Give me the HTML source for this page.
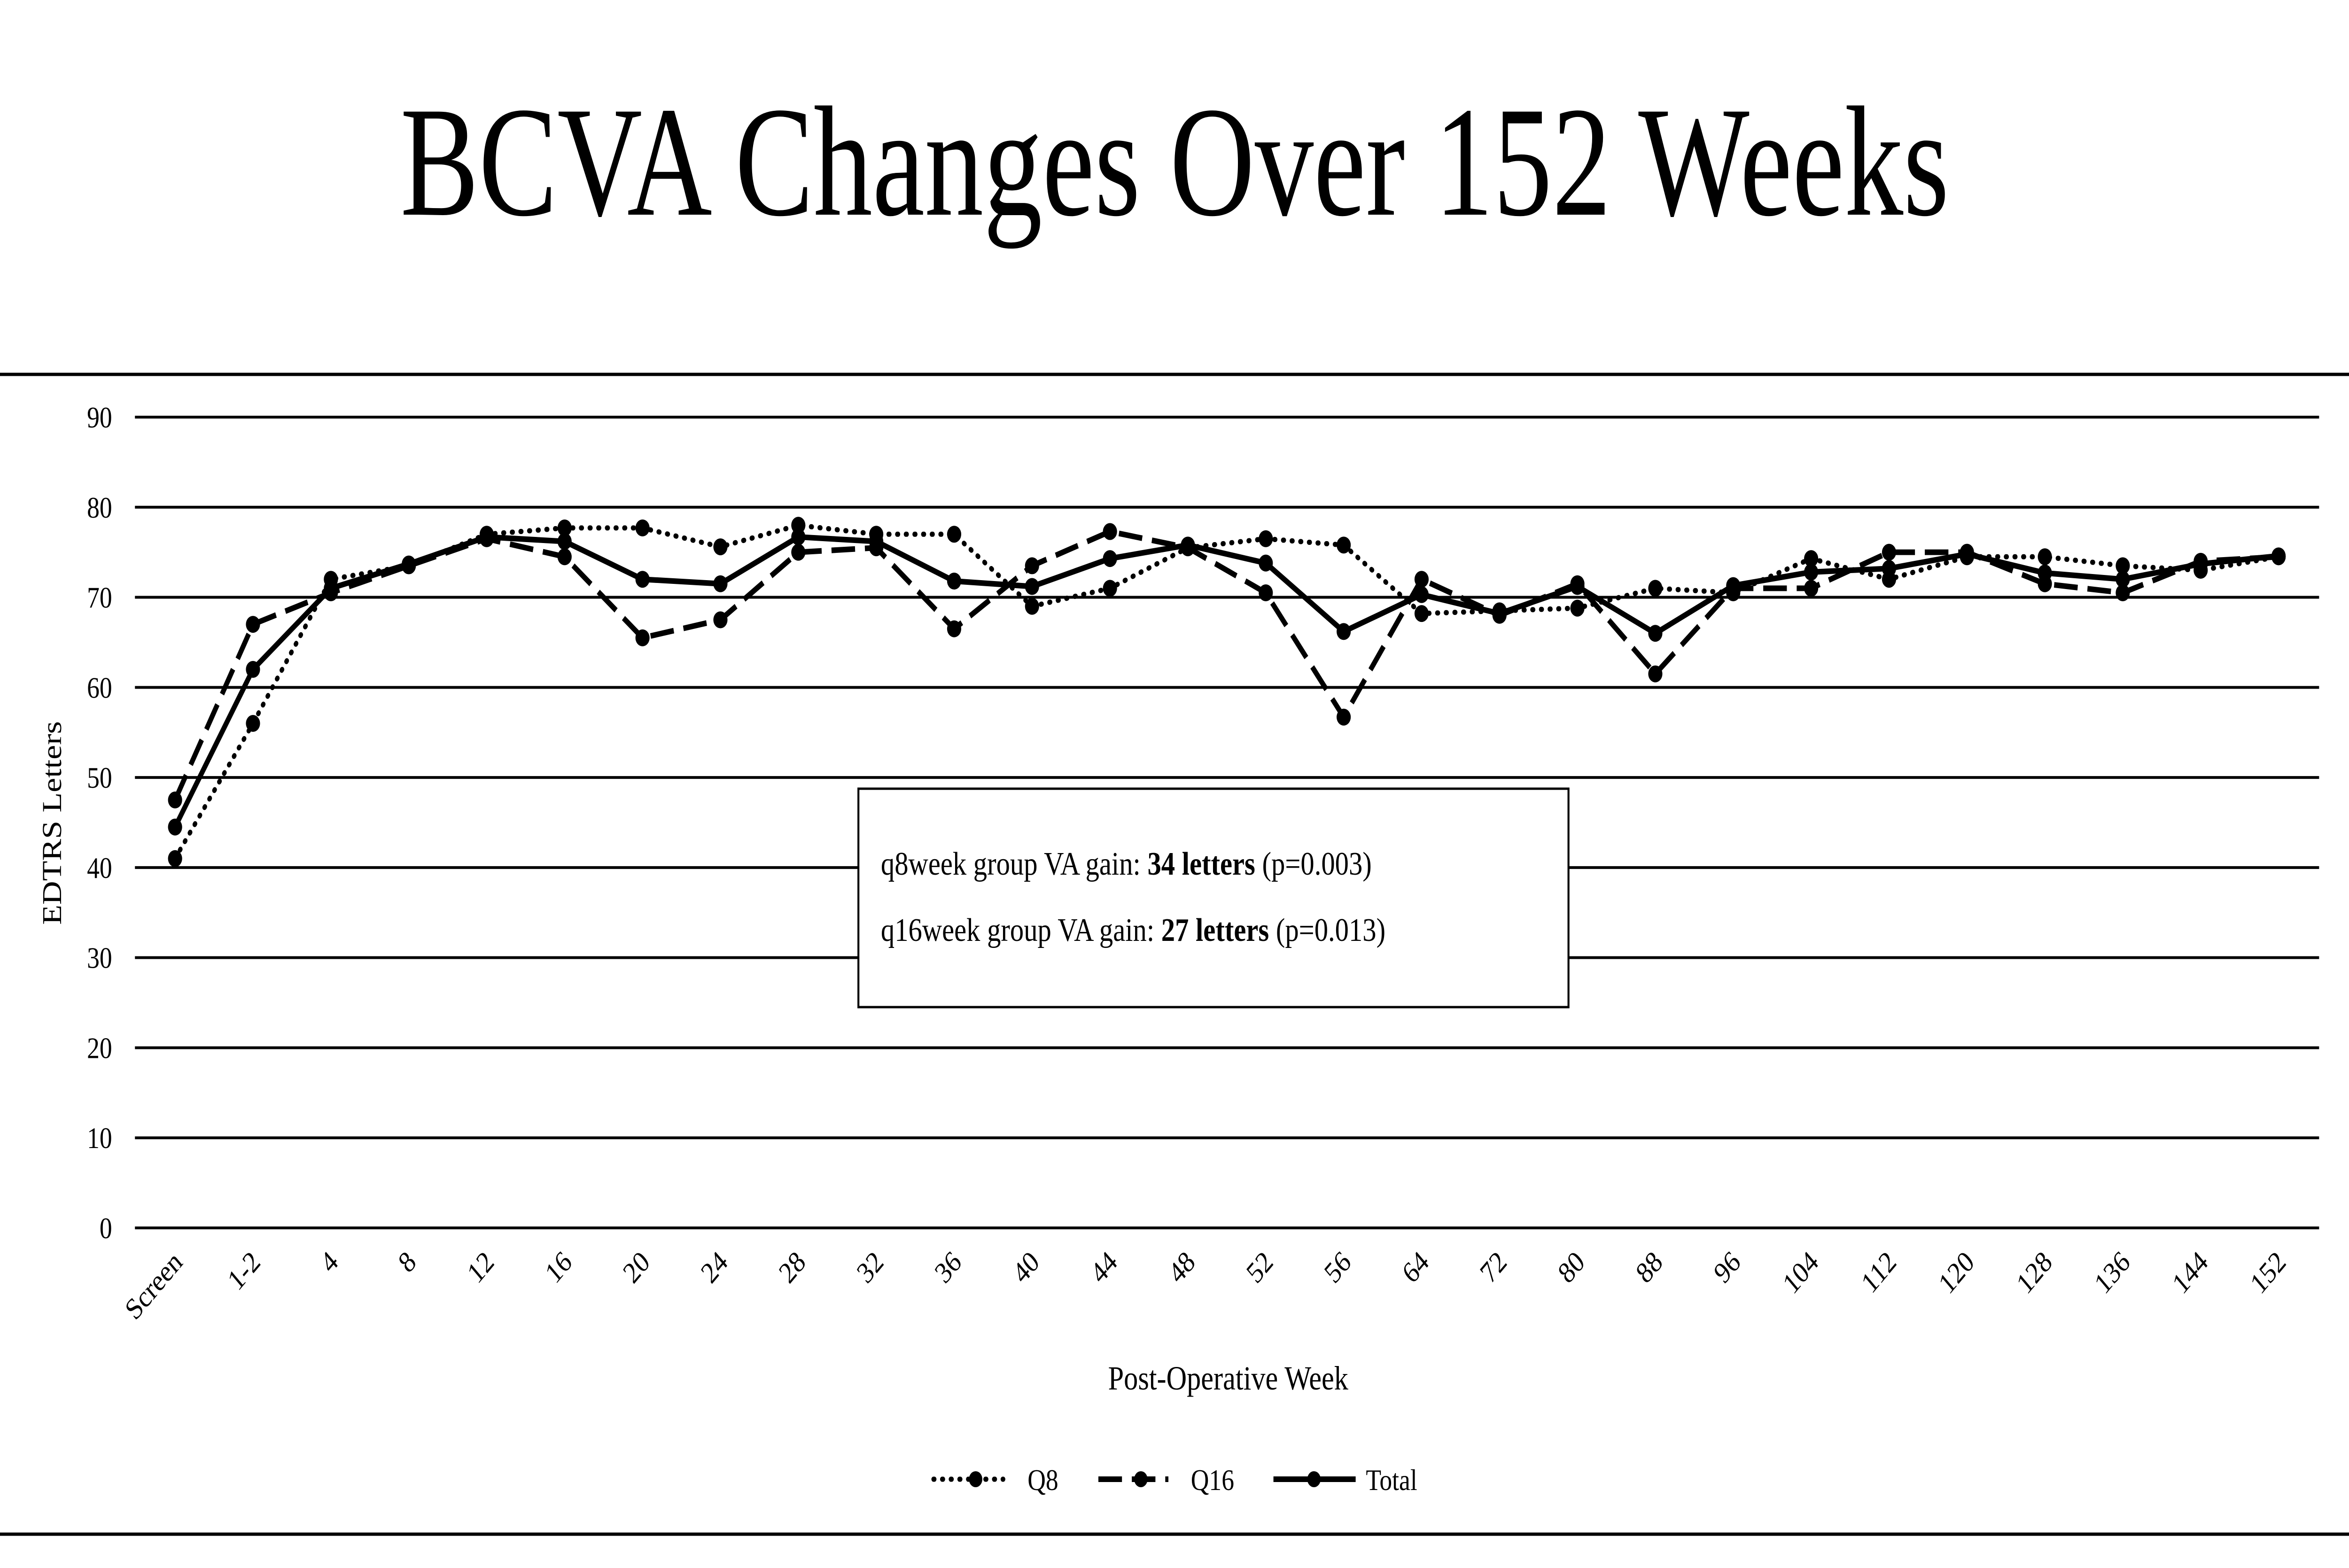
<!DOCTYPE html>
<html><head><meta charset="utf-8"><style>
html,body{margin:0;padding:0;background:#fff;overflow:hidden;width:100%;height:100%}
svg{display:block;position:fixed;left:0;top:0;width:100vw;height:100vh}
text{font-family:"Liberation Serif",serif;fill:#000}
</style></head><body>
<svg id="chart" viewBox="0 0 5971 3338" preserveAspectRatio="none" xmlns="http://www.w3.org/2000/svg">
<rect width="5971" height="3338" fill="#fff"/>
<text x="2986" y="457" text-anchor="middle" font-size="335" textLength="3937" lengthAdjust="spacingAndGlyphs">BCVA Changes Over 152 Weeks</text>
<line x1="0" y1="797" x2="5971" y2="797" stroke="#000" stroke-width="7"/>
<line x1="0" y1="3266" x2="5971" y2="3266" stroke="#000" stroke-width="7"/>
<g id="grid"></g>
<g id="xlabels"></g>
<g id="series"></g>
<text transform="translate(155,1752) rotate(-90)" text-anchor="middle" font-size="70">EDTRS Letters</text>
<text x="3122" y="2958" text-anchor="middle" font-size="72">Post-Operative Week</text>
<g>
<rect x="2182" y="1679" width="1805" height="465" fill="#fff" stroke="#000" stroke-width="5"/>
<text x="2239" y="1862" font-size="70">q8week group VA gain: <tspan font-weight="bold">34 letters</tspan> (p=0.003)</text>
<text x="2239" y="2003" font-size="70">q16week group VA gain: <tspan font-weight="bold">27 letters</tspan>  (p=0.013)</text>
</g>
<g>
<g>
<line x1="2373" y1="3149" x2="2550" y2="3149" stroke="#000" stroke-width="11" stroke-dasharray="2 20" stroke-linecap="round"/>
<circle cx="2480" cy="3149" r="17"/>
<text x="2612" y="3172" font-size="64">Q8</text></g>
<g>
<line x1="2792" y1="3149" x2="2970" y2="3149" stroke="#000" stroke-width="12" stroke-dasharray="60 25"/>
<circle cx="2900" cy="3149" r="17"/>
<text x="3027" y="3172" font-size="64">Q16</text></g>
<g>
<line x1="3237" y1="3149" x2="3446" y2="3149" stroke="#000" stroke-width="12"/>
<circle cx="3340" cy="3149" r="17"/>
<text x="3472" y="3172" font-size="64">Total</text></g>
</g>
</svg>
<script>
const categories=["Screen","1-2","4","8","12","16","20","24","28","32","36","40","44","48","52","56","64","72","80","88","96","104","112","120","128","136","144","152"];
const yTicks=[0,10,20,30,40,50,60,70,80,90];
const q8=[41,56,72,73.5,77,77.7,77.7,75.6,78,77,77,69,71,75.5,76.5,75.8,68.2,68.5,68.8,71,70.5,74.3,72,74.5,74.5,73.5,73,74.5];
const q16=[47.5,67,70.5,73.5,76.5,74.5,65.5,67.5,75,75.5,66.5,73.5,77.3,75.5,70.5,56.7,72,68,71.5,61.5,71,71,75,75,71.5,70.5,74,74.5];
const total=[44.5,62,71,73.7,76.7,76.2,72,71.5,76.7,76.2,71.8,71.2,74.3,75.8,73.8,66.2,70.3,68.2,71.2,66,71.3,72.8,73.2,74.8,72.7,72,73.7,74.6];
const NS="http://www.w3.org/2000/svg";
const x0=445,x1=5792,yBot=2614,yTop=888;
function xs(i){return x0+(x1-x0)*i/(categories.length-1);}
function ys(v){return yBot-(yBot-yTop)*v/90;}
function mk(tag,attrs,parent){const e=document.createElementNS(NS,tag);for(const k in attrs)e.setAttribute(k,attrs[k]);parent.appendChild(e);return e;}
const grid=document.getElementById('grid');
yTicks.forEach(t=>{
  const l=mk('line',{x1:343,x2:5895,y1:ys(t),y2:ys(t),stroke:'#000','stroke-width':6},grid);
  
  
  const tx=mk('text',{x:285,y:ys(t)+22,'text-anchor':'end','font-size':64},grid);
  tx.textContent=t;
  
  
});
const xl=document.getElementById('xlabels');
categories.forEach((c,i)=>{
  const t=mk('text',{transform:`translate(${xs(i)+22},${2690}) rotate(-45)`,'text-anchor':'end','font-size':64},xl);
  t.textContent=c;
  
  
});
const sg=document.getElementById('series');
function draw(vals,name,style){
  const g=mk('g',{},sg);
  
  
  const pts=vals.map((v,i)=>xs(i)+','+ys(v)).join(' ');
  const p=mk('polyline',Object.assign({points:pts,fill:'none',stroke:'#000','stroke-linejoin':'round'},style),g);
  
  
  vals.forEach((v,i)=>{
    const c=mk('circle',{cx:xs(i),cy:ys(v),r:18,fill:'#000'},g);
    
    
  });
}
draw(q8,'q8',{'stroke-width':11,'stroke-dasharray':'2 20','stroke-linecap':'round'});
draw(q16,'q16',{'stroke-width':12,'stroke-dasharray':'60 25'});
draw(total,'total',{'stroke-width':12});
</script>
</body></html>
